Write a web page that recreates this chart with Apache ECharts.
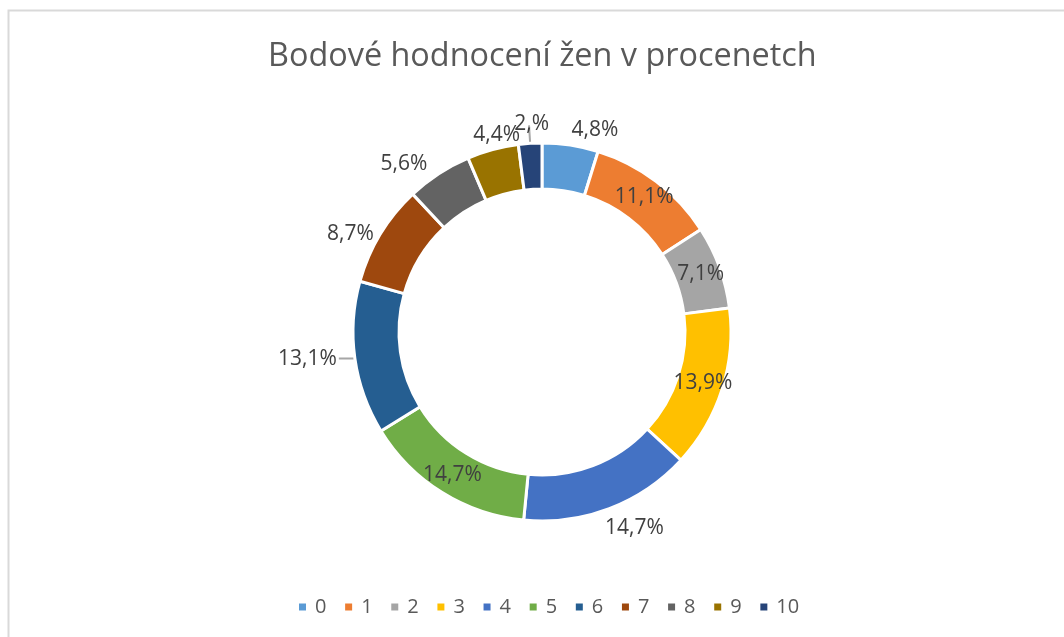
<!DOCTYPE html>
<html>
<head>
<meta charset="utf-8">
<title>Bodové hodnocení žen v procenetch</title>
<script src="https://cdn.jsdelivr.net/npm/echarts@6/dist/echarts.min.js"></script>
<style>
  html, body { margin: 0; padding: 0; background: #fff; }
  #chart { width: 1064px; height: 637px; }
</style>
</head>
<body>
<div id="chart"></div>
<script>
var categories = ['0', '1', '2', '3', '4', '5', '6', '7', '8', '9', '10'];
var percentValues = [4.8, 11.1, 7.1, 13.9, 14.7, 14.7, 13.1, 8.7, 5.6, 4.4, 2.0];
var labelTexts = ['4,8%', '11,1%', '7,1%', '13,9%', '14,7%', '14,7%', '13,1%', '8,7%', '5,6%', '4,4%', '2,%'];
var colors = ['#5B9BD5', '#ED7D31', '#A5A5A5', '#FFC000', '#4472C4', '#70AD47',
              '#255E91', '#9E480E', '#636363', '#997300', '#264478'];

var font = '"Open Sans", Lato, sans-serif';

// where each data label sits, like the Excel original
var labelPlace = {
    0: { line: false, length: 14, length2: 3, offset: [-9, -1] },
    4: { line: false, length: 16, length2: 0, offset: [-15, 4] },
    6: { line: true, length: 2, length2: 14, offset: [3, 0] },
    7: { line: false, length: 4, length2: 2, offset: [4, 2] },
    8: { line: false, length: 10, length2: 2, offset: [1, -1] },
    9: { line: false, length: 14, length2: 0, offset: [36, -1] },
    10: { line: true, length: 18, length2: 0, offset: [25, -1] }
};

var pieData = categories.map(function (name, i) {
    var p = labelPlace[i];
    var item = { name: name, value: percentValues[i] };
    if (p) {
        item.label = { position: 'outside', offset: p.offset || [0, 0] };
        item.labelLine = {
            show: p.line, length: p.length, length2: p.length2,
            lineStyle: { color: '#A6A6A6', width: 2 }
        };
    } else {
        item.label = { position: 'inside' };
    }
    return item;
});

var chart = echarts.init(document.getElementById('chart'));
var option = {
    color: colors,
    textStyle: { fontFamily: font },
    title: {
        text: 'Bodové hodnocení žen v procenetch',
        left: 263,
        top: 36,
        textStyle: { fontFamily: font, fontSize: 32.4, fontWeight: 'normal', color: '#595959' }
    },
    legend: {
        data: categories,
        bottom: 15,
        left: 292,
        icon: 'rect',
        itemWidth: 9,
        itemHeight: 9,
        itemGap: 16.7,
        textStyle: { fontFamily: font, fontSize: 20, color: '#595959', padding: [0, 0, 0, 3] }
    },
    graphic: [{
        type: 'rect',
        shape: { x: 8.5, y: 10.5, width: 1200, height: 800 },
        style: { fill: 'none', stroke: '#D9D9D9', lineWidth: 2 },
        silent: true
    }],
    series: [{
        name: 'Bodové hodnocení',
        type: 'pie',
        center: [542, 332],
        radius: [143, 189],
        startAngle: 90,
        clockwise: true,
        avoidLabelOverlap: false,
        labelLayout: { hideOverlap: false },
        itemStyle: { borderColor: '#fff', borderWidth: 3 },
        label: {
            show: true,
            fontFamily: font,
            fontSize: 21,
            color: '#404040',
            formatter: function (p) { return labelTexts[p.dataIndex]; }
        },
        labelLine: { show: false },
        emphasis: { scale: false },
        data: pieData
    }]
};
chart.setOption(option);
window.onresize = chart.resize;
</script>
</body>
</html>
